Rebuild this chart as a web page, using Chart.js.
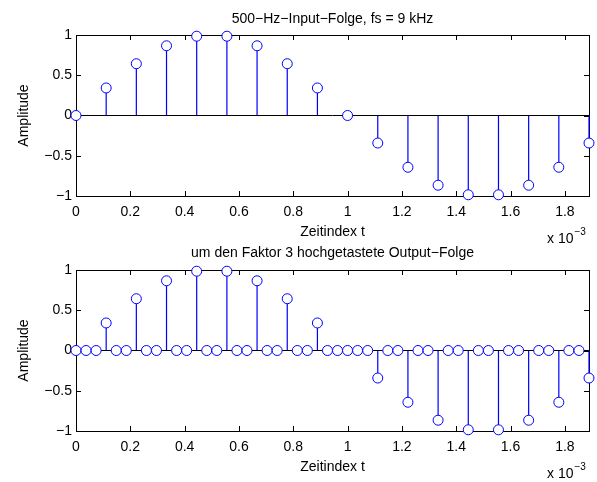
<!DOCTYPE html>
<html>
<head>
<meta charset="utf-8">
<title>Abtastratenerhöhung</title>
<script src="https://cdn.jsdelivr.net/npm/chart.js@4.4.1/dist/chart.umd.min.js"></script>
<style>
  html, body { margin: 0; padding: 0; background: #fff; }
  #wrap { position: relative; width: 597px; height: 482px; overflow: hidden; }
  #wrap canvas { position: absolute; left: 0; }
</style>
</head>
<body>
<div id="wrap">
  <canvas id="cvIn" width="597" height="250" style="top:0"></canvas>
  <canvas id="cvOut" width="597" height="242" style="top:240px"></canvas>
</div>
<script>
// Zeitachse in ms (Beschriftung mit Faktor x 10^-3)
const tIn = [0, 0.1111, 0.2222, 0.3333, 0.4444, 0.5556, 0.6667, 0.7778, 0.8889,
             1.0000, 1.1111, 1.2222, 1.3333, 1.4444, 1.5556, 1.6667, 1.7778, 1.8889];
const xIn = [0, 0.342, 0.643, 0.866, 0.985, 0.985, 0.866, 0.643, 0.342,
             0, -0.342, -0.643, -0.866, -0.985, -0.985, -0.866, -0.643, -0.342];

const tOut = [0, 0.0370, 0.0741, 0.1111, 0.1481, 0.1852, 0.2222, 0.2593, 0.2963,
              0.3333, 0.3704, 0.4074, 0.4444, 0.4815, 0.5185, 0.5556, 0.5926, 0.6296,
              0.6667, 0.7037, 0.7407, 0.7778, 0.8148, 0.8519, 0.8889, 0.9259, 0.9630,
              1.0000, 1.0370, 1.0741, 1.1111, 1.1481, 1.1852, 1.2222, 1.2593, 1.2963,
              1.3333, 1.3704, 1.4074, 1.4444, 1.4815, 1.5185, 1.5556, 1.5926, 1.6296,
              1.6667, 1.7037, 1.7407, 1.7778, 1.8148, 1.8519, 1.8889];
const xOut = [0, 0, 0, 0.342, 0, 0, 0.643, 0, 0, 0.866, 0, 0, 0.985, 0, 0, 0.985, 0, 0,
              0.866, 0, 0, 0.643, 0, 0, 0.342, 0, 0, 0, 0, 0, -0.342, 0, 0, -0.643, 0, 0,
              -0.866, 0, 0, -0.985, 0, 0, -0.985, 0, 0, -0.866, 0, 0, -0.643, 0, 0, -0.342];

const xTicks = [0, 0.2, 0.4, 0.6, 0.8, 1, 1.2, 1.4, 1.6, 1.8];
const yTicks = [-1, -0.5, 0, 0.5, 1];
const xMax = 1.8889;

const FONT = "'Liberation Sans', Arial, Helvetica, sans-serif";
const BLUE = '#0000ff';

// Rahmen mit nach innen zeigenden Ticks (Matlab-Stil)
const boxPlugin = {
  id: 'boxAxes',
  beforeDatasetsDraw(chart) {
    const { ctx, chartArea: a, scales } = chart;
    const len = 5;
    ctx.save();
    ctx.strokeStyle = '#000';
    ctx.lineWidth = 1;
    ctx.strokeRect(Math.round(a.left) + 0.5, Math.round(a.top) + 0.5,
                   Math.round(a.right - a.left), Math.round(a.bottom - a.top));
    ctx.beginPath();
    xTicks.forEach(v => {
      const px = Math.round(scales.x.getPixelForValue(v)) + 0.5;
      ctx.moveTo(px, a.bottom); ctx.lineTo(px, a.bottom - len);
      ctx.moveTo(px, a.top); ctx.lineTo(px, a.top + len);
    });
    yTicks.forEach(v => {
      const py = Math.round(scales.y.getPixelForValue(v)) + 0.5;
      ctx.moveTo(a.left, py); ctx.lineTo(a.left + len, py);
      ctx.moveTo(a.right, py); ctx.lineTo(a.right - len, py);
    });
    ctx.stroke();
    ctx.restore();
  }
};

// Titel, Achsenbeschriftungen und Exponent
const textPlugin = {
  id: 'axisText',
  afterDraw(chart) {
    const { ctx, chartArea: a } = chart;
    const o = chart.options.plugins.axisText;
    const cx = (a.left + a.right) / 2;
    ctx.save();
    ctx.fillStyle = '#000';
    ctx.font = '14px ' + FONT;
    ctx.textBaseline = 'alphabetic';
    ctx.textAlign = 'center';
    ctx.fillText(o.title, cx, o.titleY);
    ctx.fillText('Zeitindex t', cx, o.xlabelY);

    ctx.textAlign = 'left';
    ctx.fillText('x 10', 547, o.expY);
    const w = ctx.measureText('x 10').width;
    ctx.font = '10px ' + FONT;
    ctx.fillText('\u22123', 547 + w + 1, o.expY - 8);

    ctx.font = '14px ' + FONT;
    ctx.translate(24, (a.top + a.bottom) / 2);
    ctx.rotate(-Math.PI / 2);
    ctx.textAlign = 'center';
    ctx.textBaseline = 'middle';
    ctx.fillText('Amplitude', 0, 0);
    ctx.restore();
  }
};

// Stiele: je Abtastwert ein Segment von 0 bis zum Wert, getrennt durch null
function stemData(t, x) {
  const d = [];
  t.forEach((tv, i) => {
    d.push({ x: tv, y: 0 }, { x: tv, y: x[i] }, { x: tv, y: null });
  });
  return d;
}

function makeStemChart(id, t, x, o) {
  return new Chart(document.getElementById(id), {
    type: 'scatter',
    data: {
      datasets: [
        {
          data: t.map((tv, i) => ({ x: tv, y: x[i] })),
          pointStyle: 'circle',
          pointRadius: 5,
          pointBorderWidth: 1,
          pointBorderColor: BLUE,
          pointBackgroundColor: '#fff',
          clip: false,
          order: 0
        },
        {
          data: [{ x: 0, y: 0 }, { x: xMax, y: 0 }],
          showLine: true,
          borderColor: '#000',
          borderWidth: 1,
          pointRadius: 0,
          clip: false,
          order: 1
        },
        {
          data: stemData(t, x),
          showLine: true,
          spanGaps: false,
          borderColor: BLUE,
          borderWidth: 1.2,
          pointRadius: 0,
          clip: false,
          order: 2
        }
      ]
    },
    options: {
      responsive: false,
      devicePixelRatio: 1,
      animation: false,
      events: [],
      layout: { autoPadding: false, padding: { top: o.padTop, right: 8, left: 0, bottom: 0 } },
      plugins: {
        legend: { display: false },
        tooltip: { enabled: false },
        axisText: o
      },
      scales: {
        x: {
          type: 'linear',
          min: 0,
          max: xMax,
          afterBuildTicks: s => { s.ticks = xTicks.map(v => ({ value: v })); },
          afterFit: s => { s.height = o.axisH; },
          grid: { display: false, drawTicks: false },
          border: { display: false },
          ticks: {
            padding: 8,
            color: '#000',
            font: { family: FONT, size: 14 },
            maxRotation: 0,
            autoSkip: false,
            callback: v => String(v)
          }
        },
        y: {
          type: 'linear',
          min: -1,
          max: 1,
          afterBuildTicks: s => { s.ticks = yTicks.map(v => ({ value: v })); },
          afterFit: s => { s.width = 76; },
          grid: { display: false, drawTicks: false },
          border: { display: false },
          ticks: {
            padding: 4,
            color: '#000',
            font: { family: FONT, size: 14 },
            callback: v => v < 0 ? '\u2212' + Math.abs(v) : String(v)
          }
        }
      }
    },
    plugins: [boxPlugin, textPlugin]
  });
}

makeStemChart('cvIn', tIn, xIn, {
  title: '500\u2212Hz\u2212Input\u2212Folge, fs = 9 kHz',
  padTop: 35, axisH: 54, titleY: 23, xlabelY: 236, expY: 243
});

makeStemChart('cvOut', tOut, xOut, {
  title: 'um den Faktor 3 hochgetastete Output\u2212Folge',
  padTop: 30, axisH: 51, titleY: 17, xlabelY: 231, expY: 238
});
</script>
</body>
</html>
